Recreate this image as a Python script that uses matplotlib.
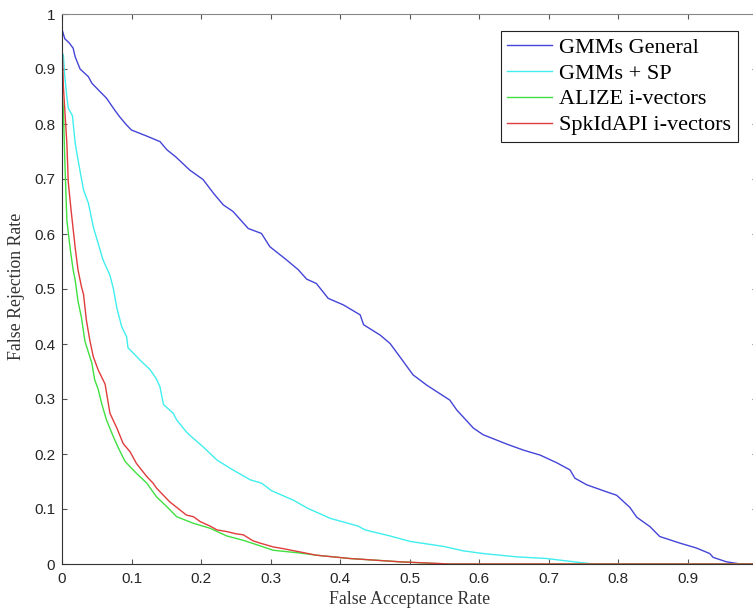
import matplotlib
matplotlib.use("Agg")
import matplotlib.pyplot as plt

########## Curve data
gmm_far = [0.0, 0.001, 0.004, 0.010, 0.016, 0.019, 0.026, 0.038, 0.043, 0.064, 0.076, 0.083, 0.093, 0.100,
           0.122, 0.141, 0.151, 0.163, 0.184, 0.203, 0.218, 0.232, 0.246, 0.268, 0.287, 0.299, 0.323,
           0.340, 0.352, 0.366, 0.383, 0.405, 0.429, 0.434, 0.458, 0.472, 0.486, 0.505, 0.525, 0.558,
           0.568, 0.592, 0.606, 0.640, 0.664, 0.688, 0.712, 0.731, 0.738, 0.755, 0.784, 0.798, 0.817,
           0.827, 0.846, 0.860, 0.889, 0.913, 0.932, 0.937, 0.956, 0.976, 1.0]
gmm_frr = [0.972, 0.968, 0.955, 0.948, 0.938, 0.922, 0.900, 0.886, 0.874, 0.847, 0.825, 0.813, 0.798, 0.789,
           0.778, 0.768, 0.753, 0.741, 0.716, 0.699, 0.674, 0.653, 0.641, 0.610, 0.601, 0.577, 0.553,
           0.535, 0.518, 0.510, 0.483, 0.471, 0.453, 0.435, 0.416, 0.401, 0.377, 0.344, 0.325, 0.298,
           0.280, 0.247, 0.235, 0.218, 0.207, 0.198, 0.184, 0.171, 0.156, 0.144, 0.131, 0.125, 0.103,
           0.085, 0.068, 0.050, 0.038, 0.029, 0.019, 0.012, 0.004, 0.0, 0.0]

sp_far = [0.0, 0.002, 0.004, 0.007, 0.009, 0.015, 0.019, 0.023, 0.031, 0.038, 0.045, 0.059, 0.069,
          0.074, 0.079, 0.086, 0.093, 0.095, 0.103, 0.112, 0.122, 0.127, 0.136, 0.141, 0.146, 0.160,
          0.165, 0.179, 0.184, 0.203, 0.223, 0.246, 0.271, 0.287, 0.302, 0.333, 0.354, 0.386, 0.426,
          0.436, 0.472, 0.501, 0.549, 0.577, 0.606, 0.630, 0.654, 0.697, 0.750, 0.765, 1.0]
sp_frr = [0.93, 0.925, 0.886, 0.850, 0.829, 0.815, 0.765, 0.735, 0.680, 0.656, 0.613, 0.553, 0.525,
          0.500, 0.465, 0.431, 0.413, 0.393, 0.383, 0.371, 0.359, 0.353, 0.336, 0.322, 0.290, 0.274,
          0.262, 0.240, 0.234, 0.213, 0.189, 0.171, 0.153, 0.147, 0.133, 0.116, 0.101, 0.083, 0.069,
          0.062, 0.051, 0.041, 0.032, 0.024, 0.019, 0.016, 0.013, 0.010, 0.002, 0.0, 0.0]

alize_far = [0.0, 0.002, 0.004, 0.007, 0.012, 0.016, 0.019, 0.023, 0.028, 0.033, 0.038, 0.043, 0.047,
             0.052, 0.057, 0.064, 0.074, 0.083, 0.091, 0.107, 0.122, 0.136, 0.151, 0.165, 0.189, 0.213,
             0.237, 0.261, 0.285, 0.304, 0.342, 0.366, 0.414, 0.486, 0.534, 0.56, 1.0]
alize_frr = [0.86, 0.825, 0.735, 0.625, 0.571, 0.535, 0.516, 0.478, 0.448, 0.405, 0.385, 0.365, 0.335,
             0.318, 0.292, 0.262, 0.231, 0.206, 0.186, 0.165, 0.147, 0.122, 0.104, 0.086, 0.074, 0.065,
             0.051, 0.043, 0.033, 0.025, 0.020, 0.016, 0.010, 0.004, 0.001, 0.0, 0.0]

spk_far = [0.0, 0.0, 0.002, 0.007, 0.009, 0.013, 0.019, 0.023, 0.028, 0.031, 0.035, 0.040,
           0.045, 0.052, 0.062, 0.069, 0.079, 0.088, 0.098, 0.107, 0.122, 0.131, 0.136, 0.155, 0.170,
           0.179, 0.189, 0.199, 0.213, 0.223, 0.237, 0.250, 0.261, 0.275, 0.285, 0.304, 0.318, 0.342,
           0.366, 0.414, 0.486, 0.558, 1.0]
spk_frr = [1.0, 0.95, 0.868, 0.765, 0.695, 0.644, 0.575, 0.535, 0.504, 0.490, 0.444, 0.407,
           0.377, 0.353, 0.327, 0.274, 0.247, 0.219, 0.204, 0.183, 0.159, 0.147, 0.138, 0.113, 0.098,
           0.089, 0.086, 0.077, 0.069, 0.062, 0.059, 0.055, 0.053, 0.042, 0.038, 0.031, 0.028, 0.022,
           0.016, 0.010, 0.004, 0.0, 0.0]

labels = ["GMMs General", "GMMs + SP", "ALIZE i-vectors", "SpkIdAPI i-vectors"]
colors = ["#4444d8", "#40eeee", "#40e040", "#e03c3c"]

tick_vals = [0, 0.1, 0.2, 0.3, 0.4, 0.5, 0.6, 0.7, 0.8, 0.9, 1]
tick_text = ["0", "0.1", "0.2", "0.3", "0.4", "0.5", "0.6", "0.7", "0.8", "0.9", "1"]

########## Figure
fig = plt.figure(figsize=(7.53, 6.12), dpi=100)
ax = fig.add_axes([62 / 753, 48 / 612, 695 / 753, 550 / 612])

series = [(gmm_far, gmm_frr), (sp_far, sp_frr), (alize_far, alize_frr), (spk_far, spk_frr)]
for (x, y), lab, col in zip(series, labels, colors):
    ax.plot(x, y, color=col, lw=1.0, label=lab)

ax.set_xlim(0, 1)
ax.set_ylim(0, 1)
ax.set_xticks(tick_vals)
ax.set_xticklabels(tick_text)
ax.set_yticks(tick_vals)
ax.set_yticklabels(tick_text)

ax.tick_params(direction="in", length=3.6, width=0.8, colors="#555555",
               labelcolor="#262626", labelsize=11, top=True, right=True)
ax.tick_params(axis="x", pad=6)
ax.tick_params(axis="y", pad=5)
for lab in ax.get_xticklabels() + ax.get_yticklabels():
    lab.set_fontfamily("Liberation Sans")

for side in ["left", "bottom"]:
    ax.spines[side].set_color("#333333")
for side in ["top", "right"]:
    ax.spines[side].set_color("#888888")

ax.set_xlabel("False Acceptance Rate", fontfamily="Liberation Serif", fontsize=12.8, color="#333333")
ax.set_ylabel("False Rejection Rate", fontfamily="Liberation Serif", fontsize=12.8, color="#333333")
ax.xaxis.set_label_coords(0.5, -27 / 550)
ax.yaxis.set_label_coords(-37 / 695, 0.505)

leg = ax.legend(loc="upper left", bbox_to_anchor=(0.631, 0.970), borderaxespad=0,
                prop={"family": "Liberation Serif", "size": 16}, fancybox=False,
                framealpha=1, edgecolor="#222222", handlelength=2.0, handletextpad=0.35,
                labelspacing=0.24, borderpad=0.3)
leg.get_frame().set_linewidth(0.8)

fig.savefig("out.png", dpi=100)
